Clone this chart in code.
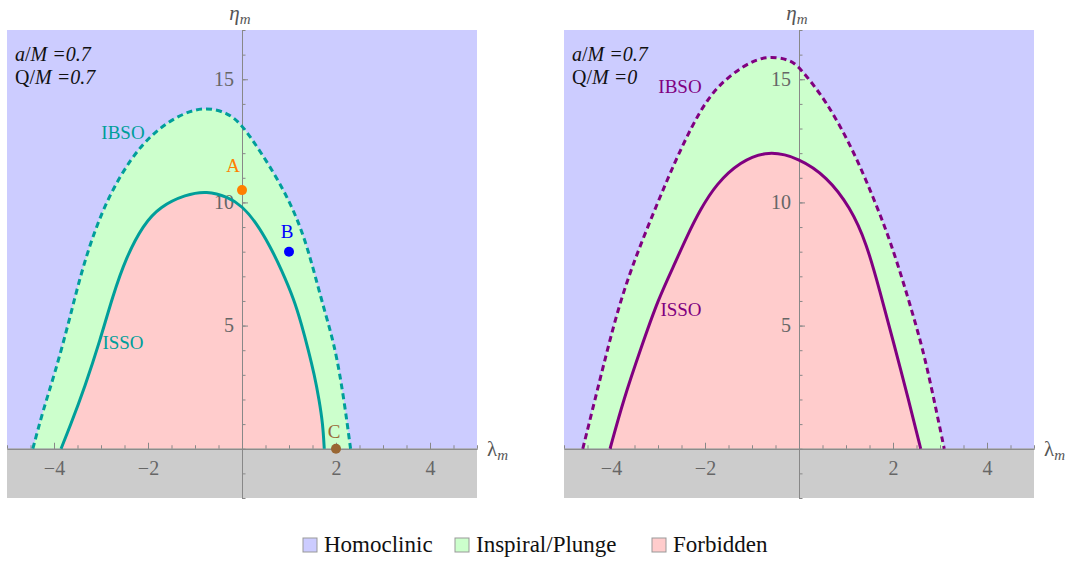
<!DOCTYPE html>
<html>
<head>
<meta charset="utf-8">
<script src="https://cdn.jsdelivr.net/npm/d3@7"></script>
<style>
  body { margin: 0; background: #fff; }
  svg { display: block; }
</style>
</head>
<body>
<svg id="chart" width="1075" height="561"></svg>
<script>
// values: [lambda_m, eta_m]
const leftIbso = [[-4.45, 0], [-4.23, 1.58], [-3.98, 3.07], [-3.69, 5.1], [-3.45, 6.95], [-3.16, 8.74],
  [-2.81, 10.35], [-2.35, 11.83], [-1.92, 12.77], [-1.4, 13.5], [-0.82, 13.9], [-0.3, 13.65],
  [0, 13.15], [0.38, 12.1], [0.81, 10.79], [1.16, 9.43], [1.41, 8.08], [1.69, 6.05],
  [1.88, 4.8], [2.02, 3.7], [2.17, 2.0], [2.31, 0]];
const leftIsso = [[-3.85, 0], [-3.66, 0.9], [-3.34, 2.53], [-3.02, 4.4], [-2.75, 6.2], [-2.47, 7.75],
  [-2.1, 9.1], [-1.74, 9.84], [-1.2, 10.32], [-0.75, 10.47], [-0.3, 10.22], [0, 9.86], [0.31, 9.16],
  [0.6, 8.21], [0.84, 7.27], [1.11, 6.05], [1.27, 5.03], [1.41, 4.02], [1.54, 3.0], [1.64, 2.0],
  [1.72, 1.0], [1.75, 0]];
const rightIbso = [[-4.6, 0], [-4.34, 2.0], [-4.08, 4.0], [-3.83, 5.8], [-3.55, 7.4], [-3.2, 9.1],
  [-2.82, 10.85], [-2.46, 12.4], [-2.11, 13.7], [-1.75, 14.7], [-1.2, 15.55], [-0.7, 15.97],
  [-0.2, 15.8], [0, 15.52], [0.59, 14.1], [1.16, 12.1], [1.58, 10.2], [1.94, 8.47], [2.31, 6.2],
  [2.64, 4.03], [2.87, 2.02], [3.09, 0]];
const rightIsso = [[-4.02, 0], [-3.73, 2.02], [-3.36, 4.1], [-3.0, 6.05], [-2.67, 7.4], [-2.39, 8.6],
  [-2.11, 9.68], [-1.76, 10.75], [-1.26, 11.65], [-0.65, 12.12], [0, 11.8], [0.59, 11.05],
  [1.09, 9.81], [1.44, 8.33], [1.72, 6.4], [2.0, 4.4], [2.33, 2.0], [2.59, 0]];

const markers = [
  { name: "A", lam: 0, eta: 10.5, color: "#ff8000" },
  { name: "B", lam: 1, eta: 8, color: "#0000ff" },
  { name: "C", lam: 2, eta: 0, color: "#996633" }
];
// label offsets from each dot, in pixels
const markerLabelOffset = { A: [-9, -18], B: [-2, -14], C: [-2, -11] };

const lambdaTicks = [-4, -2, 2, 4];
const etaTicks = [5, 10, 15];
const legendNames = ["Homoclinic", "Inspiral/Plunge", "Forbidden"];
const legendColors = ["#ccccff", "#ccffcc", "#ffcccc"];

const panels = [
  { left: 7, right: 477, ibso: leftIbso, isso: leftIsso, color: "#009e9a", q: "0.7",
    ibsoLabel: [123, 139], issoLabel: [123, 349], markers: markers },
  { left: 564, right: 1034, ibso: rightIbso, isso: rightIsso, color: "#800080", q: "0",
    ibsoLabel: [680, 93], issoLabel: [681, 316], markers: [] }
];

const SERIF = '"Liberation Serif", "DejaVu Serif", serif';
const d3c = window.d3;
const svg = d3c.select("#chart").style("font-family", SERIF);
const plotTop = 30, plotBottom = 498;

panels.forEach(p => {
  const x = d3c.scaleLinear().domain([-5, 5]).range([p.left, p.right]);
  const y = d3c.scaleLinear().domain([-2, 17]).range([plotBottom, plotTop]);
  const g = svg.append("g");

  // regions
  g.append("rect").attr("x", x(-5)).attr("y", y(17))
    .attr("width", x(5) - x(-5)).attr("height", y(0) - y(17)).attr("fill", legendColors[0]);
  g.append("rect").attr("x", x(-5)).attr("y", y(0))
    .attr("width", x(5) - x(-5)).attr("height", y(-2) - y(0)).attr("fill", "#cccccc");

  const area = d3c.area().x(d => x(d[0])).y0(y(0)).y1(d => y(d[1])).curve(d3c.curveBasis);
  g.append("path").attr("d", area(p.ibso)).attr("fill", legendColors[1]);
  g.append("path").attr("d", area(p.isso)).attr("fill", legendColors[2]);

  // axes
  const axisCol = "#888";
  const minorX = d3c.range(-5, 5.001, 0.5);
  const minorY = d3c.range(-2, 17.001, 1);

  const ax = g.append("g").attr("transform", `translate(0,${y(0)})`);
  ax.append("g").call(d3c.axisBottom(x).tickValues(minorX).tickSize(-3.5).tickSizeOuter(0).tickFormat(""));
  ax.append("g").call(d3c.axisBottom(x).tickValues(lambdaTicks).tickSize(-6).tickSizeOuter(0)
    .tickPadding(12).tickFormat(d => d < 0 ? "\u2212" + Math.abs(d) : d));

  const ay = g.append("g").attr("transform", `translate(${x(0)},0)`);
  ay.append("g").call(d3c.axisLeft(y).tickValues(minorY).tickSize(-3.5).tickSizeOuter(0).tickFormat(""));
  ay.append("g").call(d3c.axisLeft(y).tickValues(etaTicks).tickSize(-6).tickSizeOuter(0).tickPadding(8));

  g.selectAll(".domain, .tick line").attr("stroke", axisCol);
  g.selectAll(".tick text").attr("fill", "#666").style("font-size", "20px").style("font-family", SERIF);

  // curves
  const line = d3c.line().x(d => x(d[0])).y(d => y(d[1])).curve(d3c.curveBasis);
  g.append("path").attr("d", line(p.ibso)).attr("fill", "none")
    .attr("stroke", p.color).attr("stroke-width", 3).attr("stroke-dasharray", "6,4");
  g.append("path").attr("d", line(p.isso)).attr("fill", "none")
    .attr("stroke", p.color).attr("stroke-width", 3);

  g.append("text").attr("x", p.ibsoLabel[0]).attr("y", p.ibsoLabel[1])
    .attr("text-anchor", "middle").attr("fill", p.color).attr("font-size", 19).text("IBSO");
  g.append("text").attr("x", p.issoLabel[0]).attr("y", p.issoLabel[1])
    .attr("text-anchor", "middle").attr("fill", p.color).attr("font-size", 19).text("ISSO");

  // marked points
  p.markers.forEach(m => {
    const off = markerLabelOffset[m.name];
    g.append("circle").attr("cx", x(m.lam)).attr("cy", y(m.eta)).attr("r", 5).attr("fill", m.color);
    g.append("text").attr("x", x(m.lam) + off[0]).attr("y", y(m.eta) + off[1])
      .attr("text-anchor", "middle").attr("fill", m.color).attr("font-size", 19).text(m.name);
  });

  // axis labels
  const eta = g.append("text").attr("x", x(0) - 2).attr("y", 20).attr("text-anchor", "middle")
    .attr("fill", "#555").attr("font-size", 21);
  eta.append("tspan").attr("font-style", "italic").text("\u03B7");
  eta.append("tspan").attr("font-style", "italic").attr("font-size", 15).attr("dy", 4).text("m");

  const lam = g.append("text").attr("x", x(5) + 10).attr("y", y(0) + 7)
    .attr("fill", "#555").attr("font-size", 21);
  lam.append("tspan").text("\u03BB");
  lam.append("tspan").attr("font-style", "italic").attr("font-size", 15).attr("dy", 4).text("m");

  // parameters
  const t1 = g.append("text").attr("x", p.left + 8).attr("y", 61).attr("font-size", 20).attr("fill", "#111");
  t1.append("tspan").attr("font-style", "italic").text("a");
  t1.append("tspan").text("/");
  t1.append("tspan").attr("font-style", "italic").text("M");
  t1.append("tspan").attr("font-style", "italic").text(" =0.7");
  const t2 = g.append("text").attr("x", p.left + 8).attr("y", 84).attr("font-size", 20).attr("fill", "#111");
  t2.append("tspan").text("Q/");
  t2.append("tspan").attr("font-style", "italic").text("M");
  t2.append("tspan").attr("font-style", "italic").text(" =" + p.q);
});

// legend
const legendX = [303, 455, 652];
const legend = svg.append("g");
legendNames.forEach((name, i) => {
  legend.append("rect").attr("x", legendX[i]).attr("y", 538).attr("width", 14).attr("height", 14)
    .attr("fill", legendColors[i]).attr("stroke", "#999").attr("stroke-width", 1);
  legend.append("text").attr("x", legendX[i] + 21).attr("y", 551.5).attr("font-size", 23)
    .attr("fill", "#111").text(name);
});
</script>
</body>
</html>
